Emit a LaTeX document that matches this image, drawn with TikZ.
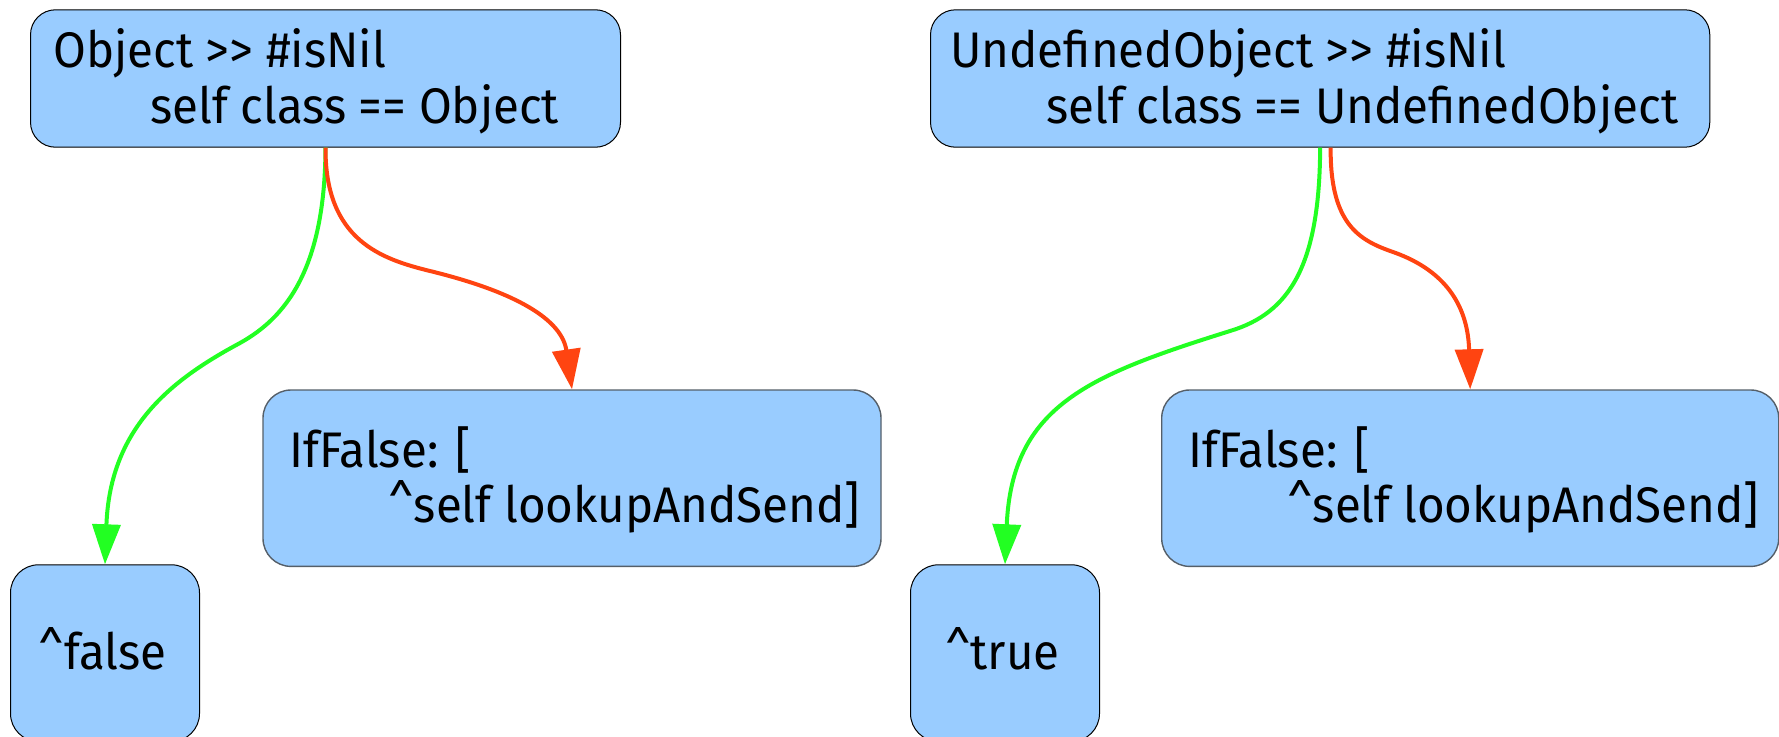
\documentclass[tikz,border=0pt]{standalone}
\usepackage{fontspec}
\setmainfont{Fira Sans}[FakeStretch=0.95]
\usetikzlibrary{arrows.meta}
\definecolor{boxfill}{HTML}{99CCFF}
\definecolor{yesgreen}{HTML}{22FF22}
\definecolor{nored}{HTML}{FF4411}
\definecolor{edgegray}{HTML}{555F69}
\begin{document}
\begin{tikzpicture}[x=1pt,y=-1pt,
  box/.style={draw=black, line width=1pt, fill=boxfill, rounded corners=25pt,
    inner sep=0pt, anchor=north west},
  branch/.style={box, draw=edgegray, line width=1.4pt, rounded corners=28pt},
  leaf/.style={box, rounded corners=28pt},
  txt/.style={inner sep=0pt, anchor=base west, font=\fontsize{50}{56}\selectfont},
  conn/.style={line width=4pt, -{Triangle[length=40pt,width=28pt]}},
  yes/.style={conn, draw=yesgreen},
  no/.style={conn, draw=nored}]
\useasboundingbox (0,0) rectangle (1779,736);

% method boxes
\node[box, minimum width=590pt, minimum height=137.4pt] (o) at (30,9.3) {};
\node[box, minimum width=779.3pt, minimum height=137.4pt] (u) at (930,9.3) {};
\node[txt] (o1) at (53,67.7) {Object >{}> \#isNil};
\node[txt] (o2) at (150,123.3) {self class == Object};
\node[txt] (u1) at (950,67.7) {UndefinedObject >{}> \#isNil};
\node[txt] (u2) at (1046,123.3) {self class == UndefinedObject};

% fallback branches
\node[branch, minimum width=618pt, minimum height=176.4pt] (n1) at (262.3,389.3) {};
\node[branch, minimum width=617pt, minimum height=176.4pt] (n2) at (1161,389.3) {};
\node[txt] (n1a) at (289,467.3) {IfFalse: [};
\node[txt] (n1b) at (388,522.7) {\textasciicircum self lookupAndSend]};
\node[txt] (n2a) at (1188,467.3) {IfFalse: [};
\node[txt] (n2b) at (1287,522.7) {\textasciicircum self lookupAndSend]};

% results
\node[leaf, minimum width=189pt, minimum height=176.7pt] (f) at (10,564.3) {};
\node[leaf, minimum width=189pt, minimum height=176.7pt] (t) at (910,564.3) {};
\node[txt, anchor=base] (fx) at (102.5,669.3) {\textasciicircum false};
\node[txt, anchor=base] (tx) at (1002.5,669.3) {\textasciicircum true};

% connectors
\draw[yes] (o.south) .. controls (325,270) and (285,318) .. (240,343)
  .. controls (175,378) and (110,425) .. (f.north);
\draw[no] (o.south) .. controls (325,240) and (381,259) .. (430,271)
  .. controls (517.4,292.4) and (562,320) .. (n1.north);
\draw[yes] (u.south) .. controls (1319.6,265) and (1290,313) .. (1230,331)
  .. controls (1090,375) and (1012,405) .. (t.north);
\draw[no] ([xshift=10.5pt]u.south) .. controls (1330,225) and (1360,240.5) .. (1393,252)
  .. controls (1449.4,271.8) and (1468,310) .. (n2.north);
\end{tikzpicture}
\end{document}
